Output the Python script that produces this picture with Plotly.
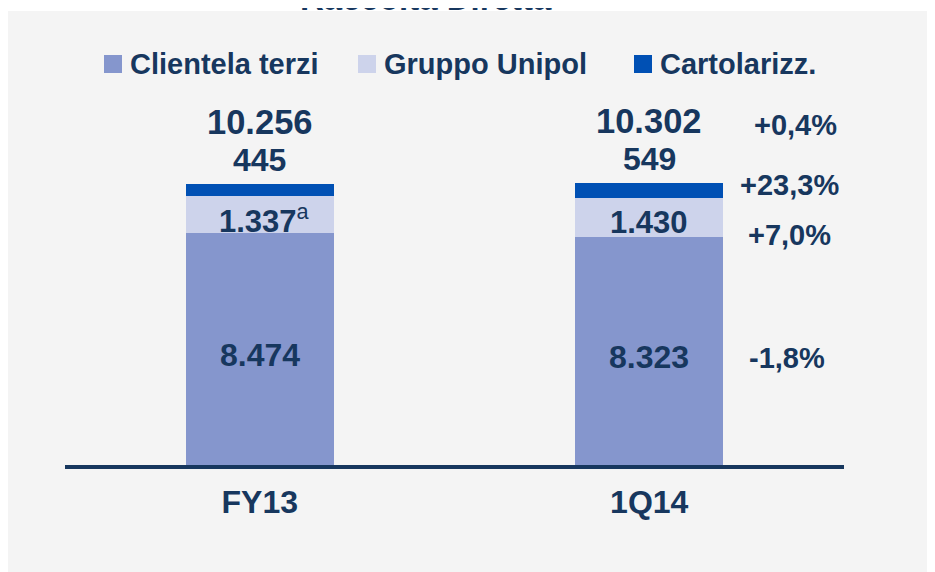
import plotly.graph_objects as go

# ---- data ----
categories = ["FY13", "1Q14"]
series_names = ["Clientela terzi", "Gruppo Unipol", "Cartolarizz."]
clientela = [8474, 8323]
gruppo = [1337, 1430]
cartolarizz = [445, 549]
totals = [10256, 10302]
delta_series = ["-1,8%", "+7,0%", "+23,3%"]
delta_total = "+0,4%"
title_text = "Raccolta Diretta"

# ---- style ----
C_CLI = "#8596CD"
C_GRP = "#CDD3EB"
C_CAR = "#0050B4"
NAVY = "#17375E"
GREY = "#F4F4F4"
FONT = "Liberation Sans, Arial, sans-serif"

OFF = 8  # page body margin
W, H = 935 - OFF, 572 - OFF
PLOT_L, PLOT_R, PLOT_T, PLOT_B = 65, 844, 120, 465  # page pixels
ML = PLOT_L - OFF
MR = W - (PLOT_R - OFF)
MT = PLOT_T - OFF
MB = H - (PLOT_B - OFF)
PW = W - ML - MR
PH = H - MT - MB


def px(x):
    return (x - PLOT_L) / PW


def py(y):
    return (PLOT_B - y) / PH


def fmt(v):
    return f"{v:,}".replace(",", ".")


xs = list(range(len(categories)))
fig = go.Figure()
for name, vals, col in zip(series_names, [clientela, gruppo, cartolarizz], [C_CLI, C_GRP, C_CAR]):
    fig.add_trace(go.Bar(x=xs, y=vals, name=name, marker=dict(color=col, line=dict(width=0)),
                         width=0.38, showlegend=False, hoverinfo="skip"))

fig.update_layout(
    barmode="stack",
    width=W, height=H,
    margin=dict(l=ML, r=MR, t=MT, b=MB, pad=0),
    paper_bgcolor="white",
    plot_bgcolor="rgba(0,0,0,0)",
    font=dict(family=FONT, color=NAVY),
    xaxis=dict(range=[-0.5, 1.5], tickvals=xs, ticktext=categories, showgrid=False, zeroline=False,
               showline=True, linecolor=NAVY, linewidth=4, ticks="", ticklabelstandoff=6,
               tickfont=dict(family=FONT, size=32, color=NAVY, weight="bold"), fixedrange=True),
    yaxis=dict(range=[0, 12600], visible=False, fixedrange=True),
)

# grey panel
fig.add_shape(type="rect", xref="paper", yref="paper", x0=px(7), x1=px(940), y0=py(580), y1=py(11),
              fillcolor=GREY, line=dict(width=0), layer="below")

ann = []
def A(text, x, y, size, xref="x", yref="y", xanchor="center", yshift=0, xshift=0):
    ann.append(dict(text=text, x=x, y=y, xref=xref, yref=yref, xanchor=xanchor, yanchor="middle",
                    showarrow=False, yshift=yshift, xshift=xshift,
                    font=dict(family=FONT, size=size, color=NAVY, weight="bold")))

# title (cut off at top)
A(title_text, px(426), py(-1), 33, xref="paper", yref="paper")

# legend
leg_sq = [104, 358, 634]
leg_tx = [128, 382, 658]
for name, col, sx, tx in zip(series_names, [C_CLI, C_GRP, C_CAR], leg_sq, leg_tx):
    fig.add_shape(type="rect", xref="paper", yref="paper", x0=px(sx), x1=px(sx + 18),
                  y0=py(73), y1=py(55), fillcolor=col, line=dict(width=0))
    A(name, px(tx), py(64), 29, xref="paper", yref="paper", xanchor="left")

# value labels
for i in xs:
    A(fmt(totals[i]), i, totals[i], 34.5, yshift=62)
    A(fmt(cartolarizz[i]), i, totals[i], 32, yshift=24)
    grp_txt = fmt(gruppo[i]) + ("<sup><span style='font-weight:normal'>a</span></sup>" if i == 0 else "")
    A(grp_txt, i, clientela[i] + gruppo[i] / 2, 31, yshift=-4 if i == 0 else -5, xshift=5 if i == 0 else 0)
    A(fmt(clientela[i]), i, clientela[i] / 2, 32, yshift=-6)

# deltas for last period
dx = 1.361
last = len(xs) - 1
A(delta_total, dx, totals[last], 29, yshift=58, xshift=6)
A(delta_series[2], dx, totals[last], 29, yshift=-2)
A(delta_series[1], dx, clientela[last] + gruppo[last] / 2, 29, yshift=-17)
A(delta_series[0], dx, clientela[last] / 2, 29, yshift=-7, xshift=-3)

fig.update_layout(annotations=ann)
fig.write_html("out.html")
